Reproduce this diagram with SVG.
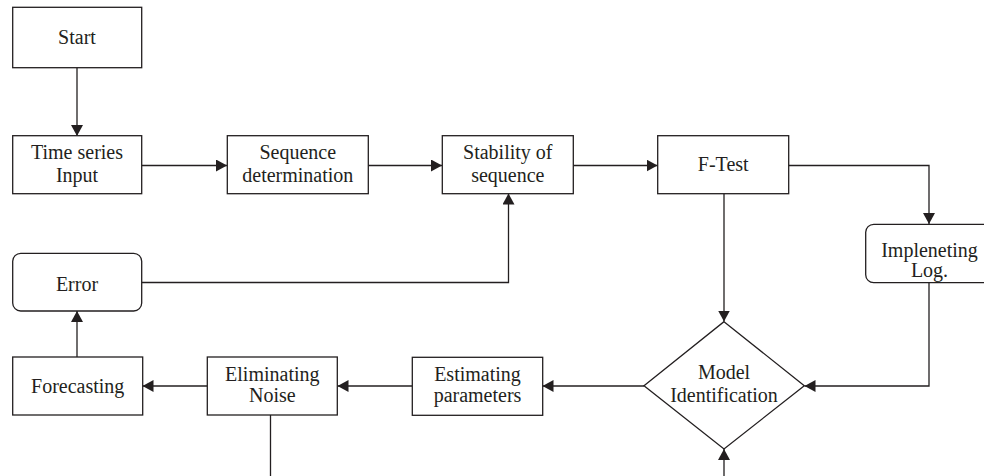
<svg xmlns="http://www.w3.org/2000/svg" width="984" height="476" viewBox="0 0 984 476">
<style>
.box{fill:#fff;stroke:#231f20;stroke-width:1.3}
.lbl{font-family:"Liberation Serif","Times New Roman",serif;font-size:20px;fill:#231f20;text-anchor:middle}
.con{fill:none;stroke:#231f20;stroke-width:1.3}
</style>
<defs>
<marker id="ah" viewBox="0 0 11 12" refX="11" refY="6" markerWidth="11" markerHeight="12" markerUnits="userSpaceOnUse" orient="auto">
<path d="M0,0 L11,6 L0,12 Z" fill="#231f20"/>
</marker>
</defs>
<rect width="984" height="476" fill="#fff"/>
<g id="connectors">
<path class="con" d="M77,68 V136" marker-end="url(#ah)"/>
<path class="con" d="M142,165.5 H227" marker-end="url(#ah)"/>
<path class="con" d="M368,165.5 H442" marker-end="url(#ah)"/>
<path class="con" d="M573,165.5 H657.5" marker-end="url(#ah)"/>
<path class="con" d="M788.5,165.5 H929 V224" marker-end="url(#ah)"/>
<path class="con" d="M724,193.5 V321.5" marker-end="url(#ah)"/>
<path class="con" d="M929,282.5 V386 H804.5" marker-end="url(#ah)"/>
<path class="con" d="M644,386 H542.5" marker-end="url(#ah)"/>
<path class="con" d="M412,386 H337.5" marker-end="url(#ah)"/>
<path class="con" d="M207,386 H142.5" marker-end="url(#ah)"/>
<path class="con" d="M77,357 V311" marker-end="url(#ah)"/>
<path class="con" d="M142,282.5 H508.5 V193.5" marker-end="url(#ah)"/>
<path class="con" d="M270.5,415 V500 H724 V449" marker-end="url(#ah)"/>
</g>
<g id="start">
<rect class="box" x="12.7" y="7.3" width="129" height="60.4"/>
<text class="lbl" x="77" y="43.5">Start</text>
</g>
<g id="time-series-input">
<rect class="box" x="12.7" y="135.7" width="129" height="58"/>
<text class="lbl" x="77" y="159.3">Time series</text>
<text class="lbl" x="77" y="181.5">Input</text>
</g>
<g id="sequence-determination">
<rect class="box" x="227.3" y="135.7" width="141" height="58"/>
<text class="lbl" x="297.8" y="159.3">Sequence</text>
<text class="lbl" x="297.8" y="181.5">determination</text>
</g>
<g id="stability-of-sequence">
<rect class="box" x="442.3" y="135.7" width="131" height="58"/>
<text class="lbl" x="507.8" y="159.3">Stability of</text>
<text class="lbl" x="507.8" y="181.5">sequence</text>
</g>
<g id="f-test">
<rect class="box" x="657.7" y="135.7" width="131" height="58"/>
<text class="lbl" x="723.2" y="170.7">F-Test</text>
</g>
<g id="implementing-log">
<rect class="box" x="865.7" y="224.3" width="127" height="58.4" rx="8"/>
<text class="lbl" x="929.5" y="256.7">Impleneting</text>
<text class="lbl" x="929.5" y="276.7">Log.</text>
</g>
<g id="error">
<rect class="box" x="12.7" y="253.3" width="129" height="57.7" rx="8"/>
<text class="lbl" x="77" y="290.5">Error</text>
</g>
<g id="forecasting">
<rect class="box" x="12.7" y="357" width="130" height="58"/>
<text class="lbl" x="77.7" y="392.7">Forecasting</text>
</g>
<g id="eliminating-noise">
<rect class="box" x="207.3" y="357" width="130" height="58"/>
<text class="lbl" x="272.3" y="381">Eliminating</text>
<text class="lbl" x="272.3" y="402">Noise</text>
</g>
<g id="estimating-parameters">
<rect class="box" x="412.3" y="357.3" width="130.4" height="58"/>
<text class="lbl" x="477.5" y="381">Estimating</text>
<text class="lbl" x="477.5" y="402">parameters</text>
</g>
<g id="model-identification">
<polygon class="box" points="724,321.7 804.3,385.7 724,449 644,385.7"/>
<text class="lbl" x="724" y="379">Model</text>
<text class="lbl" x="724" y="402.3">Identification</text>
</g>
</svg>
